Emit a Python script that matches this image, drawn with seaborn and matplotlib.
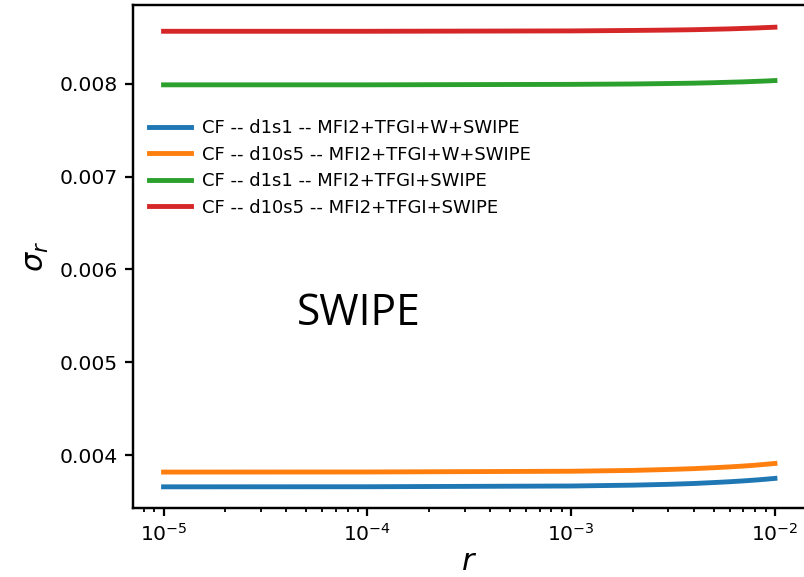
import numpy as np
import pandas as pd
import seaborn as sns
import matplotlib.pyplot as plt

# radius values (log axis)
r_values = [1e-5, 1e-4, 1e-3, 2e-3, 3e-3, 4e-3, 5e-3, 6e-3, 7e-3, 8e-3, 9e-3, 1e-2]

# sigma_r
sigma_d1s1_w = [0.003658, 0.003659, 0.003667, 0.003676, 0.003685, 0.003694,
                0.003704, 0.003713, 0.003722, 0.003731, 0.003740, 0.003749]
sigma_d10s5_w = [0.003817, 0.003818, 0.003826, 0.003835, 0.003845, 0.003854,
                 0.003864, 0.003873, 0.003882, 0.003891, 0.003901, 0.003910]
sigma_d1s1 = [0.007990, 0.007990, 0.007995, 0.007999, 0.008004, 0.008008,
              0.008013, 0.008018, 0.008022, 0.008027, 0.008031, 0.008036]
sigma_d10s5 = [0.008567, 0.008567, 0.008571, 0.008576, 0.008580, 0.008584,
               0.008589, 0.008593, 0.008598, 0.008602, 0.008607, 0.008611]

labels = [
    "CF -- d1s1 -- MFI2+TFGI+W+SWIPE",
    "CF -- d10s5 -- MFI2+TFGI+W+SWIPE",
    "CF -- d1s1 -- MFI2+TFGI+SWIPE",
    "CF -- d10s5 -- MFI2+TFGI+SWIPE",
]
series = [sigma_d1s1_w, sigma_d10s5_w, sigma_d1s1, sigma_d10s5]

df = pd.concat(
    [pd.DataFrame({"r": r_values, "sigma": s, "case": lab}) for lab, s in zip(labels, series)],
    ignore_index=True,
)

fig = plt.figure(figsize=(804 / 146, 577 / 146), dpi=146)
ax = fig.add_axes([0.1654, 0.1196, 1.0019 - 0.1654, 0.9913 - 0.1196])

palette = ["#1f77b4", "#ff7f0e", "#2ca02c", "#d62728"]
sns.lineplot(data=df, x="r", y="sigma", hue="case", hue_order=labels,
             palette=palette, linewidth=2.4, ax=ax, errorbar=None)

ax.set_xscale("log")
ax.set_ylim(0.00343, 0.00885)
ax.set_yticks([0.004, 0.005, 0.006, 0.007, 0.008])
ax.set_xlabel(r"$r$", fontsize=15, labelpad=1)
ax.set_ylabel(r"$\sigma_r$", fontsize=15)

for spine in ax.spines.values():
    spine.set_linewidth(1.2)
ax.tick_params(which="major", width=1.1, length=4)
ax.tick_params(which="minor", width=0.9)

leg = ax.legend(loc="center left", bbox_to_anchor=(0, 0.676), frameon=False,
                fontsize=8.9, labelspacing=0.47, handlelength=2.3, handletextpad=0.65)
for line in leg.get_lines():
    line.set_linewidth(2.4)

ax.text(0.336, 0.386, "SWIPE", transform=ax.transAxes, ha="center", va="center",
        fontsize=21, family="Open Sans")

fig.savefig("out.png", dpi=146)
